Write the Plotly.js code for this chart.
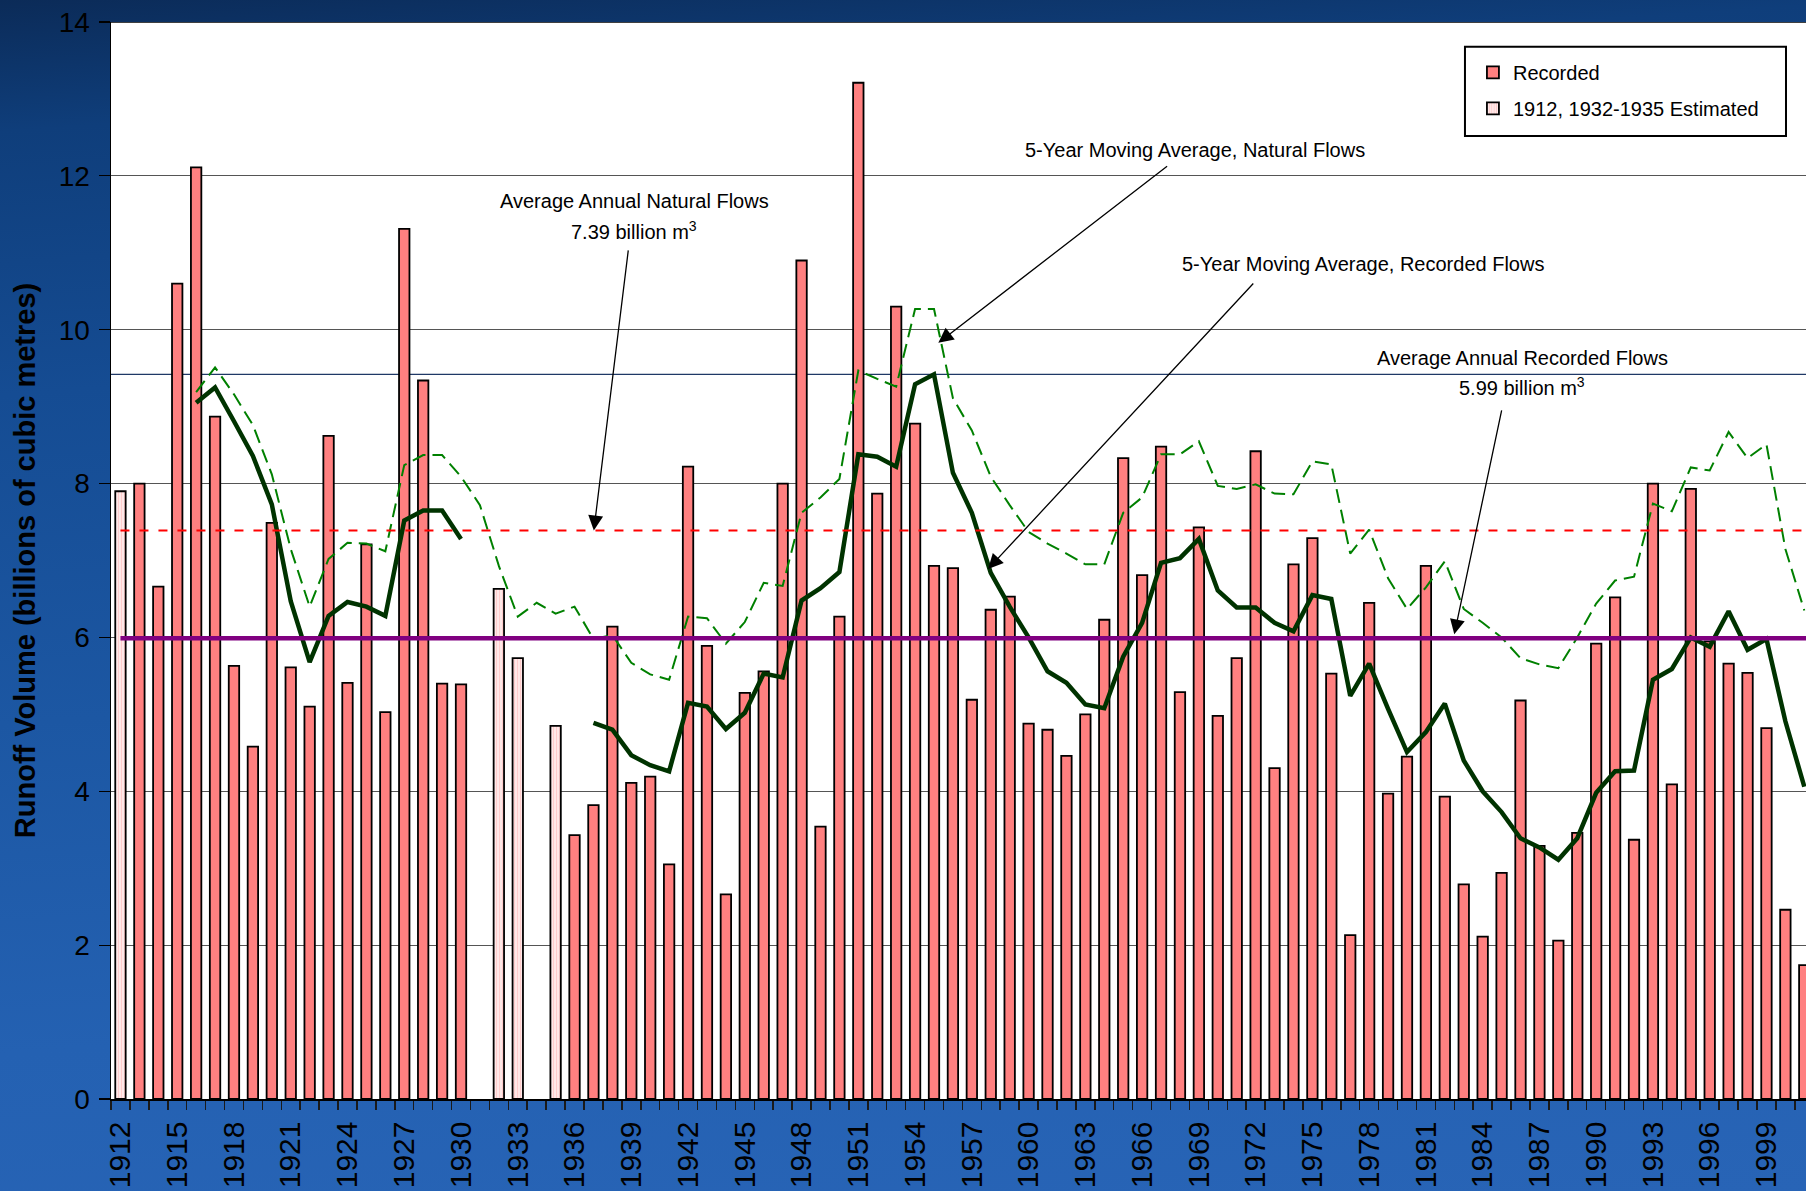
<!DOCTYPE html>
<html>
<head>
<meta charset="utf-8">
<script src="https://cdn.plot.ly/plotly-3.0.1.min.js"></script>
<style>
  html, body { margin: 0; padding: 0; }
  body {
    width: 1806px; height: 1191px; overflow: hidden;
    background: linear-gradient(176deg, #0b2b58 0%, #0f3e7b 10%, #154c93 30%, #1c57a3 55%, #2461b2 80%, #2864b6 100%);
  }
  #chart { width: 1806px; height: 1191px; }
</style>
</head>
<body>
<div id="chart"></div>
<script>
// ---------------- DATA ----------------
const years = [];
for (let y = 1912; y <= 2001; y++) years.push(y);

// Recorded annual runoff (billions of m3); null = not recorded
const recorded = [
  null, 8.00, 6.66, 10.60, 12.11, 8.87, 5.63, 4.58, 7.49, 5.61,   // 1912-1921
  5.10, 8.62, 5.41, 7.21, 5.03, 11.31, 9.34, 5.40, 5.39, null,    // 1922-1931
  null, null, null, null, 3.43, 3.82, 6.14, 4.11, 4.19, 3.05,     // 1932-1941
  8.22, 5.89, 2.66, 5.28, 5.56, 8.00, 10.90, 3.54, 6.27, 13.21,   // 1942-1951
  7.87, 10.30, 8.78, 6.93, 6.90, 5.19, 6.36, 6.53, 4.88, 4.80,    // 1952-1961
  4.46, 5.00, 6.23, 8.33, 6.81, 8.48, 5.29, 7.43, 4.98, 5.73,     // 1962-1971
  8.42, 4.30, 6.95, 7.29, 5.53, 2.13, 6.45, 3.97, 4.45, 6.93,     // 1972-1981
  3.93, 2.79, 2.11, 2.94, 5.18, 3.29, 2.06, 3.46, 5.92, 6.52,     // 1982-1991
  3.37, 8.00, 4.09, 7.93, 5.95, 5.66, 5.54, 4.82, 2.46, 1.74      // 1992-2001
];

// Estimated years (1912, 1932-1935)
const estimated = [
  7.90, null, null, null, null, null, null, null, null, null,
  null, null, null, null, null, null, null, null, null, null,
  6.63, 5.73, null, 4.85, null, null, null, null, null, null,
  null, null, null, null, null, null, null, null, null, null,
  null, null, null, null, null, null, null, null, null, null,
  null, null, null, null, null, null, null, null, null, null,
  null, null, null, null, null, null, null, null, null, null,
  null, null, null, null, null, null, null, null, null, null,
  null, null, null, null, null, null, null, null, null, null
];

// 5-year moving average, recorded flows
const maRecorded = [
  null, null, null, null, 9.05, 9.25, 8.81, 8.36, 7.73, 6.47,     // 1912-1921
  5.68, 6.28, 6.46, 6.40, 6.28, 7.52, 7.65, 7.65, 7.28, null,     // 1922-1931
  null, null, null, null, null, 4.89, 4.80, 4.47, 4.34, 4.26,     // 1932-1941
  5.15, 5.10, 4.81, 5.02, 5.53, 5.48, 6.48, 6.64, 6.85, 8.38,     // 1942-1951
  8.35, 8.22, 9.29, 9.42, 8.14, 7.62, 6.84, 6.40, 6.00, 5.56,     // 1952-1961
  5.41, 5.13, 5.08, 5.75, 6.19, 6.97, 7.03, 7.28, 6.61, 6.39,     // 1962-1971
  6.39, 6.19, 6.08, 6.55, 6.50, 5.24, 5.66, 5.07, 4.51, 4.77,     // 1972-1981
  5.14, 4.40, 4.00, 3.73, 3.39, 3.27, 3.11, 3.39, 3.98, 4.26,     // 1982-1991
  4.27, 5.45, 5.59, 6.00, 5.88, 6.34, 5.84, 5.98, 4.91, 4.06      // 1992-2001
];

// 5-year moving average, natural flows
const maNatural = [
  null, null, null, null, 9.19, 9.51, 9.16, 8.76, 8.12, 7.15,     // 1912-1921
  6.40, 7.02, 7.23, 7.22, 7.12, 8.24, 8.37, 8.37, 8.09, 7.72,     // 1922-1931
  6.93, 6.27, 6.45, 6.31, 6.40, 5.98, 6.03, 5.67, 5.52, 5.45,     // 1932-1941
  6.27, 6.25, 5.92, 6.20, 6.71, 6.67, 7.62, 7.82, 8.06, 9.47,     // 1942-1951
  9.36, 9.26, 10.27, 10.27, 9.11, 8.69, 8.09, 7.72, 7.37, 7.22,   // 1952-1961
  7.09, 6.95, 6.95, 7.62, 7.82, 8.38, 8.38, 8.55, 7.97, 7.93,     // 1962-1971
  7.99, 7.87, 7.86, 8.29, 8.25, 7.09, 7.40, 6.77, 6.37, 6.65,     // 1972-1981
  6.99, 6.37, 6.19, 6.00, 5.73, 5.65, 5.60, 6.00, 6.44, 6.74,     // 1982-1991
  6.79, 7.74, 7.64, 8.21, 8.17, 8.67, 8.33, 8.51, 7.15, 6.35      // 1992-2001
];

const avgNatural = 7.39;
const avgRecorded = 5.99;
const blueRule = 9.42;

const labelYears = years.filter(y => (y - 1912) % 3 === 0);
const labelText = labelYears.map(String);

// ---------------- TRACES ----------------
const FONT = 'Liberation Sans, Arial, Helvetica, sans-serif';

const traces = [
  {
    type: 'bar', x: years, y: recorded, name: 'Recorded', legendgroup: 'rec',
    marker: { color: '#FF8080', line: { color: '#000000', width: 1.8 } },
    hoverinfo: 'x+y'
  },
  {
    type: 'bar', x: years, y: estimated, name: '1912, 1932-1935 Estimated', legendgroup: 'est',
    marker: {
      color: '#FFE4E4',
      line: { color: '#000000', width: 1.8 },
      pattern: { shape: '|', fgcolor: '#FFC4C4', bgcolor: '#FFE8E8', size: 3, solidity: 0.25 }
    },
    hoverinfo: 'x+y'
  },
  {
    type: 'scatter', mode: 'lines', x: years, y: maNatural, name: '5-Year Moving Average, Natural Flows',
    line: { color: '#008000', width: 2, dash: '14px,7px' }, showlegend: false, connectgaps: false
  },
  {
    type: 'scatter', mode: 'lines', x: years, y: maRecorded, name: '5-Year Moving Average, Recorded Flows',
    line: { color: '#003300', width: 4.5 }, showlegend: false, connectgaps: false
  }
];

// ---------------- LAYOUT ----------------
const xStart = years[0];
const xEnd = years[years.length - 1] + 0.5;

const shapes = [
  { type: 'line', xref: 'x', yref: 'y', x0: years[0] - 0.5, x1: xEnd, y0: blueRule, y1: blueRule,
    line: { color: '#1f3866', width: 1.2 }, layer: 'below' },
  { type: 'line', xref: 'x', yref: 'y', x0: xStart, x1: xEnd, y0: avgNatural, y1: avgNatural,
    line: { color: '#FF0000', width: 2, dash: '9px,10px' }, layer: 'above' },
  { type: 'line', xref: 'x', yref: 'y', x0: xStart, x1: xEnd, y0: avgRecorded, y1: avgRecorded,
    line: { color: '#800080', width: 4.5 }, layer: 'above' },
  { type: 'line', xref: 'paper', yref: 'y', x0: 0, x1: 1, y0: 14, y1: 14,
    line: { color: '#000000', width: 1.5 }, layer: 'above' },
  // legend frame
  { type: 'rect', xref: 'paper', yref: 'paper', x0: 0.7988, x1: 0.9882, y0: 0.8942, y1: 0.9771,
    fillcolor: '#FFFFFF', line: { color: '#000000', width: 2 }, layer: 'above' }
];

const txt = (text, x, y) => ({
  text: text, x: x, y: y, xref: 'x', yref: 'y', showarrow: false,
  xanchor: 'center', yanchor: 'middle', font: { family: FONT, size: 20, color: '#000' }
});
const arrow = (x, y, ax, ay) => ({
  text: '', x: x, y: y, ax: ax, ay: ay, xref: 'x', yref: 'y', axref: 'x', ayref: 'y',
  showarrow: true, arrowhead: 2, arrowsize: 2.3, arrowwidth: 1.3, arrowcolor: '#000', standoff: 0, startstandoff: 0
});

const annotations = [
  txt('Average Annual Natural Flows', 1939.15, 11.67),
  txt('7.39 billion m<sup>3</sup>', 1939.15, 11.29),
  arrow(1937.02, avgNatural, 1938.85, 11.05),

  txt('5-Year Moving Average, Natural Flows', 1968.8, 12.34),
  arrow(1955.23, 9.83, 1967.4, 12.14),

  txt('5-Year Moving Average, Recorded Flows', 1977.69, 10.86),
  arrow(1957.86, 6.89, 1971.95, 10.62),

  txt('Average Annual Recorded Flows', 1986.09, 9.63),
  txt('5.99 billion m<sup>3</sup>', 1986.09, 9.26),
  arrow(1982.5, 6.04, 1985.02, 8.97)
];

const layout = {
  width: 1806, height: 1191,
  margin: { l: 111, r: 0, t: 22, b: 92, pad: 0 },
  paper_bgcolor: 'rgba(0,0,0,0)',
  plot_bgcolor: '#FFFFFF',
  font: { family: FONT, color: '#000000' },
  barmode: 'overlay',
  bargap: 0.45,
  showlegend: true,
  legend: {
    x: 0.8035, y: 0.9713, xanchor: 'left', yanchor: 'top',
    bgcolor: 'rgba(0,0,0,0)', borderwidth: 0,
    font: { family: FONT, size: 20, color: '#000' },
    traceorder: 'grouped', tracegroupgap: 7
  },
  xaxis: {
    range: [1911.5, 2001.09],
    tickmode: 'array', tickvals: labelYears, ticktext: labelText,
    tickangle: -90, tickfont: { family: FONT, size: 30, color: '#000' },
    ticks: '', ticklabelstandoff: 9,
    showline: true, linecolor: '#000', linewidth: 1.5,
    showgrid: false, zeroline: false,
    minor: { tickmode: 'linear', tick0: 1911.5, dtick: 1, ticks: 'outside', ticklen: 9, tickwidth: 1.5, tickcolor: '#1a1a1a', showgrid: false }
  },
  yaxis: {
    range: [0, 14], tickmode: 'linear', tick0: 0, dtick: 2,
    ticks: 'outside', ticklen: 11, tickwidth: 1.2, tickcolor: '#000',
    tickfont: { family: FONT, size: 28, color: '#000' },
    ticklabelstandoff: 3,
    showgrid: true, gridcolor: '#555555', gridwidth: 1,
    showline: true, linecolor: '#000', linewidth: 1.5, zeroline: false,
    title: { text: '<b>Runoff Volume (billions of cubic metres)</b>', font: { family: FONT, size: 29, color: '#000' }, standoff: 14 }
  },
  shapes: shapes,
  annotations: annotations
};

Plotly.newPlot('chart', traces, layout, { displayModeBar: false, staticPlot: true });
</script>
</body>
</html>
